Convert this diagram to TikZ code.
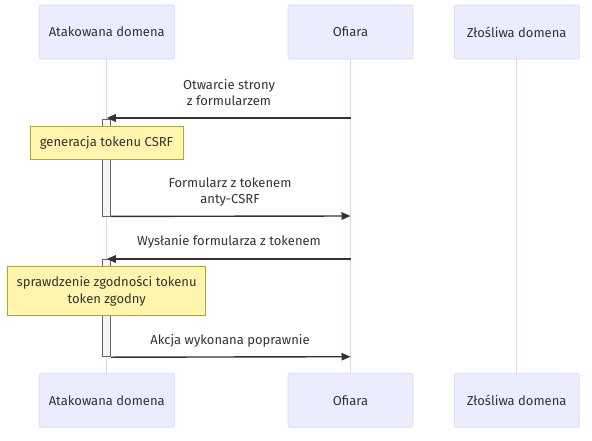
\documentclass[tikz,border=0pt]{standalone}
\usepackage{fontspec}
\setmainfont{Fira Sans}
\usetikzlibrary{arrows.meta}
\definecolor{actfill}{HTML}{ECECFF}
\definecolor{actdraw}{HTML}{E0D6F5}
\definecolor{lifeline}{HTML}{DCD3F7}
\definecolor{txt}{HTML}{333333}
\definecolor{notefill}{HTML}{FFF5AD}
\definecolor{notedraw}{HTML}{AAAA33}
\definecolor{activfill}{HTML}{F4F4F4}
\definecolor{activdraw}{HTML}{666666}
\tikzset{
  actor/.style={draw=actdraw, fill=actfill, rounded corners=2pt, minimum height=54pt, inner sep=0pt, font=\fontsize{13}{15}\selectfont, text=txt, line width=0.8pt},
  noteb/.style={draw=notedraw, fill=notefill, inner sep=0pt, font=\fontsize{13}{16.5}\selectfont, text=txt, align=center, line width=0.8pt},
  activ/.style={draw=activdraw, fill=activfill, minimum width=8.5pt, inner sep=0pt, line width=0.8pt},
  msg/.style={draw=txt, line width=1.4pt, -{Triangle[length=9pt,width=7.5pt]}},
  mlabel/.style={font=\fontsize{13}{16.5}\selectfont, text=txt, align=center, inner sep=0pt},
  life/.style={draw=lifeline, line width=1pt}
}
\begin{document}
\begin{tikzpicture}[x=1pt,y=-1pt]
\useasboundingbox (0,0) rectangle (592,440);
% actors top
\node[actor, minimum width=135pt] (a1) at (106.75,32) {Atakowana domena};
\node[actor, minimum width=125pt] (a2) at (350.5,32) {Ofiara};
\node[actor, minimum width=125pt] (a3) at (516.7,32) {Złośliwa domena};
% actors bottom
\node[actor, minimum width=135pt] (b1) at (106.75,400.3) {Atakowana domena};
\node[actor, minimum width=125pt] (b2) at (350.5,400.3) {Ofiara};
\node[actor, minimum width=125pt] (b3) at (516.7,400.3) {Złośliwa domena};
% lifelines
\draw[life] (a1.south) -- (b1.north);
\draw[life] (a2.south) -- (b2.north);
\draw[life] (a3.south) -- (b3.north);
% activations
\node[activ, minimum height=97pt] (act1) at (106.5,167.5) {};
\node[activ, minimum height=97pt] (act2) at (106.5,308.3) {};
% message 1
\coordinate (m1s) at (350.5,118);
\coordinate (m1e) at (106.75,118);
\draw[msg] (m1s) -- (m1e);
\node[mlabel] (l1) at (229,92.5) {Otwarcie strony\\z formularzem};
% note 1
\node[noteb, minimum width=153pt, minimum height=33pt] (n1) at (106.5,142.5) {generacja tokenu CSRF};
% message 2
\coordinate (m2e) at (350.5,216);
\draw[msg] (act1.south east) -- (m2e);
\node[mlabel] (l2) at (230,192) {Formularz z tokenem\\anty-CSRF};
% message 3
\coordinate (m3s) at (350.5,259);
\coordinate (m3e) at (106.75,259);
\draw[msg] (m3s) -- (m3e);
\node[mlabel] (l3) at (229,242) {Wysłanie formularza z tokenem};
% note 2
\node[noteb, minimum width=198pt, minimum height=48.6pt] (n2) at (106.7,291) {sprawdzenie zgodności tokenu\\token zgodny};
% message 4
\coordinate (m4e) at (350.5,356.7);
\draw[msg] (act2.south east) -- (m4e);
\node[mlabel] (l4) at (230,340.5) {Akcja wykonana poprawnie};
\end{tikzpicture}
\end{document}
